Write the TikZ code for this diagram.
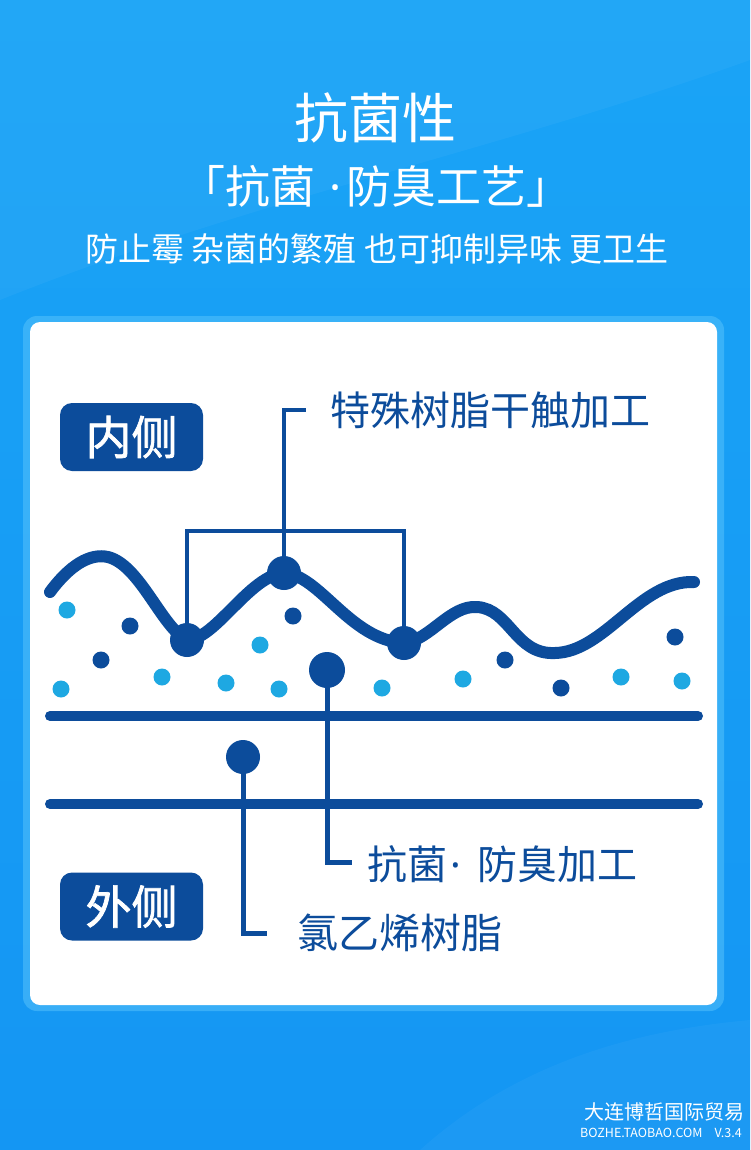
\documentclass[tikz,border=0pt]{standalone}
\usepackage{fontspec}
\setmainfont{Noto Sans CJK SC}
\newfontfamily\latinfont{Noto Sans}
\newfontfamily\medfont[FakeBold=1.6]{Noto Sans CJK SC}
\newcommand\dotsep[2]{\hspace{#1em}{\latinfont ·}\hspace{#2em}}
\definecolor{dblue}{RGB}{12,76,155}
\definecolor{lblue}{RGB}{30,168,226}
\definecolor{bgtop}{RGB}{26,164,246}
\definecolor{bgbot}{RGB}{20,150,243}
\definecolor{glow}{RGB}{80,190,250}
\tikzset{
  wavedot/.style={circle,fill=dblue,inner sep=0pt,minimum size=34pt},
  bigdot/.style={circle,fill=dblue,inner sep=0pt,minimum size=36pt},
  sdark/.style={circle,fill=dblue,inner sep=0pt,minimum size=17pt},
  slight/.style={circle,fill=lblue,inner sep=0pt,minimum size=17pt},
  leader/.style={draw=dblue,line width=5pt},
  bracket/.style={draw=dblue,line width=4pt},
  layer/.style={draw=dblue,line width=10pt,line cap=round},
  sidebox/.style={fill=dblue,rounded corners=12pt,minimum width=143pt,minimum height=68pt,inner sep=0pt,text=white,font=\fontsize{46}{50}\medfont},
  lbl/.style={anchor=west,inner sep=0pt,text=dblue},
  title/.style={inner sep=0pt,text=white}
}
\begin{document}
\begin{tikzpicture}[x=1pt,y=-1pt]
\useasboundingbox (0,0) rectangle (750,1150);
% background
\shade[top color=bgtop,bottom color=bgbot] (0,0) rectangle (750,1150);
\fill[white,opacity=0.04] (0,300) .. controls (250,200) and (500,150) .. (750,60) -- (750,0) -- (0,0) -- cycle;
\fill[white,opacity=0.035] (420,1150) .. controls (520,1060) and (640,1030) .. (750,1020) -- (750,1150) -- cycle;
% card
\fill[glow,opacity=0.6,rounded corners=14pt] (23,316) rectangle (724,1011);
\fill[white,rounded corners=10pt] (30,322) rectangle (717,1005);

% titles
\node[title,font=\fontsize{54}{60}\selectfont] (t0) at (375,118) {抗菌性};
\node[title,font=\fontsize{45}{50}\selectfont] (t01) at (376,186) {「抗菌\dotsep{0.3}{0.12}防臭工艺」};
\node[title,font=\fontsize{33}{36}\selectfont] (t02) at (377,249) {防止霉 杂菌的繁殖 也可抑制异味 更卫生};

% side boxes
\node[sidebox] (inner) at (131.5,437) {内侧};
\node[sidebox] (outer) at (131.5,906.5) {外侧};

% anchor coordinates
\coordinate (p1) at (187,640);
\coordinate (p2) at (284,573);
\coordinate (p3) at (404,643);
\coordinate (pb) at (327,670);
\coordinate (pe) at (243,757);
\coordinate (brk) at (295,531);
\coordinate (c1) at (306,410);
\coordinate (c2) at (352,862);
\coordinate (c3) at (267,933);
\coordinate (l1a) at (50,716);
\coordinate (l1b) at (698,716);
\coordinate (l2a) at (50,804);
\coordinate (l2b) at (698,804);

% layer lines
\draw[layer] (l1a) -- (l1b);
\draw[layer] (l2a) -- (l2b);

% leaders
\draw[bracket] (p1) |- (brk) -| (p3);
\draw[bracket] (p2) |- (c1);
\draw[leader] (pb) |- (c2);
\draw[leader] (pe) |- (c3);

% wave
\draw[dblue,line width=12pt,line cap=round]
  (50,592) .. controls (70,565) and (90,553) .. (108,557)
  .. controls (140,565) and (162,628) .. (p1)
  .. controls (215,640) and (250,575) .. (p2)
  .. controls (320,575) and (350,640) .. (p3)
  .. controls (430,640) and (450,605) .. (477,607)
  .. controls (510,609) and (515,655) .. (555,653)
  .. controls (605,652) and (640,580) .. (694,582);

% small dots
\node[slight] (s1) at (67,610) {};
\node[sdark] (s2) at (130,626) {};
\node[sdark] (s3) at (101,660) {};
\node[slight] (s4) at (61,689) {};
\node[slight] (s5) at (162,677) {};
\node[slight] (s6) at (226,683) {};
\node[slight] (s7) at (279,689) {};
\node[slight] (s8) at (260,645) {};
\node[sdark] (s9) at (293,616) {};
\node[slight] (s10) at (382,688) {};
\node[slight] (s11) at (463,679) {};
\node[sdark] (s12) at (505,660) {};
\node[sdark] (s13) at (561,688) {};
\node[slight] (s14) at (621,677) {};
\node[slight] (s15) at (682,681) {};
\node[sdark] (s16) at (675,637) {};

% big dots
\node[wavedot] (w1) at (p1) {};
\node[wavedot] (w2) at (p2) {};
\node[wavedot] (w3) at (p3) {};
\node[bigdot] (b) at (pb) {};
\node[wavedot] (e) at (pe) {};

% labels
\node[lbl,font=\fontsize{40}{44}\selectfont] (t1) at (330,410) {特殊树脂干触加工};
\node[lbl,font=\fontsize{40}{44}\selectfont] (t2) at (367,864) {抗菌\dotsep{0.08}{0.4}防臭加工};
\node[lbl,font=\fontsize{41}{44}\selectfont] (t3) at (297,933) {氯乙烯树脂};

% watermark
\node[title,anchor=east,font=\fontsize{20}{24}\selectfont] (wm1) at (745,1112) {大连博哲国际贸易};
\node[title,anchor=west,font=\fontsize{12.5}{14}\selectfont] (wm2) at (580,1133) {BOZHE.TAOBAO.COM};
\node[title,anchor=east,font=\fontsize{12.5}{14}\selectfont] (wm3) at (742,1133) {V.3.4};
\end{tikzpicture}
\end{document}
